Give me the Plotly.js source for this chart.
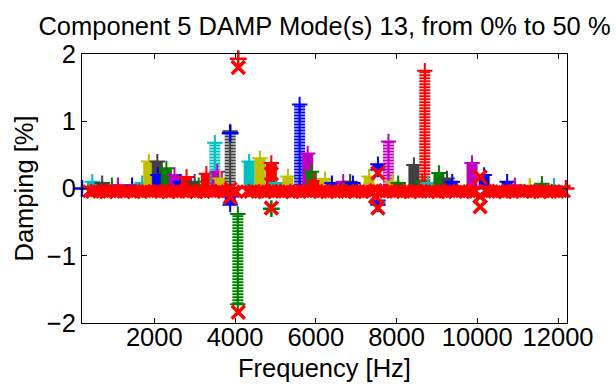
<!DOCTYPE html>
<html><head><meta charset="utf-8">
<script src="https://cdn.plot.ly/plotly-3.0.1.min.js"></script>
<style>html,body{margin:0;padding:0;background:#fff}#chart{width:616px;height:387px}</style>
</head><body><div id="chart"></div>
<script>
const titleText = 'Component 5 DAMP Mode(s) 13, from 0% to 50 %';
const xTitle = 'Frequency [Hz]';
const yTitle = 'Damping [%]';
const xTickVals = [2000, 4000, 6000, 8000, 10000, 12000];
const xTickText = ['2000', '4000', '6000', '8000', '10000', '12000'];
const yTickVals = [-2, -1, 0, 1, 2];
const yTickText = ['\u22122', '\u22121', '0', '1', '2'];

// stacked '+' columns (mode damping tracks): frequency, lowest and highest damping, series
const colFreq = [465, 710, 950, 1100, 1450, 1700, 1864, 2075, 2090, 2300, 2500, 2640, 2800, 3000, 3100, 3290, 3500, 3560, 3630, 3880, 3880, 4070, 4350, 4620, 4900, 5020, 5310, 5600, 5800, 5890, 5960, 6230, 6400, 6680, 6850, 6920, 7320, 7540, 7540, 7800, 7900, 8040, 8430, 8640, 8700, 8780, 9050, 9250, 9380, 9870, 10170, 10740, 10930, 11300, 11600, 11900];
const colLow  = [0, 0, 0, 0, 0, 0, 0, 0, 0, 0, 0, 0, 0, 0, 0, 0, 0, 0, 0, 0, -0.12, -1.72, 0, 0, 0, 0, 0, 0, 0, 0, 0, 0, 0, 0, 0, 0, 0, 0.28, -0.18, 0, 0, 0, 0, 0, 0.02, 0, 0, 0, 0, 0, 0, 0, 0, 0, 0, 0];
const colHigh = [0.1, 0.08, 0.05, 0.05, 0.05, 0.08, 0.4, 0.4, 0.2, 0.3, 0.2, 0.1, 0.17, 0.1, 0.05, 0.22, 0.68, 0.25, 0.15, 0.85, -0.24, -0.38, 0.4, 0.45, 0.38, 0.08, 0.18, 1.25, 0.52, 0.25, 0.12, 0.14, 0.08, 0.1, 0.1, 0.08, 0.18, 0.36, -0.24, 0.7, 0.1, 0.08, 0.35, 0.1, 1.75, 0.08, 0.23, 0.15, 0.1, 0.38, 0.2, 0.1, 0.05, 0.04, 0.07, 0.04];
const colSeries = ['c', 'k', 'g', 'm', 'b', 'c', 'y', 'k', 'b', 'g', 'm', 'b', 'r', 'k', 'g', 'r', 'c', 'm', 'y', 'k', 'b', 'g', 'c', 'y', 'r', 'c', 'y', 'b', 'm', 'g', 'r', 'y', 'b', 'm', 'k', 'b', 'y', 'b', 'b', 'm', 'y', 'g', 'k', 'g', 'r', 'c', 'g', 'k', 'b', 'm', 'b', 'b', 'm', 'y', 'g', 'c'];

// isolated '+' markers
const plusFreq = [210, 3880, 4080, 4900, 12200];
const plusDamp = [0, 0.82, 1.93, -0.3, 0];
const plusSeries = ['b', 'b', 'r', 'g', 'r'];

// red 'x' markers along the zero band
const bandFreq = [390, 470, 560, 640, 720, 810, 900, 980, 1060, 1150,
  1240, 1320, 1410, 1490, 1580, 1660, 1750, 1840, 1920, 2010,
  2100, 2180, 2270, 2350, 2440, 2530, 2610, 2700, 2790, 2870,
  2960, 3040, 3130, 3220, 3300, 3390, 3470, 3560, 3650, 3730,
  3820, 3890, 3960, 4040, 4300, 4390, 4470, 4560, 4640, 4730,
  4820, 4900, 4990, 5070, 5160, 5250, 5330, 5420, 5500, 5590,
  5680, 5760, 5850, 5930, 6020, 6110, 6190, 6280, 6360, 6450,
  6540, 6620, 6710, 6790, 6880, 6970, 7050, 7140, 7220, 7310,
  7400, 7480, 7570, 7650, 7740, 7830, 7910, 8000, 8080, 8170,
  8260, 8340, 8430, 8510, 8600, 8690, 8770, 8860, 8940, 9030,
  9120, 9200, 9290, 9370, 9460, 9550, 9630, 9720, 9800, 9890,
  9960, 10200, 10280, 10360, 10430, 10520, 10600, 10690, 10770, 10860,
  10950, 11030, 11120, 11200, 11290, 11380, 11460, 11550, 11630, 11720,
  11810, 11890, 11980, 12060, 12150];
const bandDamp = [-0.04, -0.05, -0.03, -0.05, -0.04, -0.06, -0.04, -0.03, -0.05, -0.04,
  -0.05, -0.03, -0.04, -0.06, -0.04, -0.05, -0.03, -0.04, -0.05, -0.04,
  -0.03, -0.05, -0.04, -0.06, -0.04, -0.03, -0.05, -0.04, -0.05, -0.03,
  -0.04, -0.06, -0.04, -0.05, -0.03, -0.04, -0.05, -0.04, -0.03, -0.05,
  -0.04, 0.0, -0.04, -0.05, -0.04, -0.05, -0.03, -0.05, -0.04, -0.06,
  -0.04, -0.03, -0.05, -0.04, -0.05, -0.03, -0.04, -0.06, -0.04, -0.05,
  -0.03, -0.04, -0.05, -0.04, -0.03, -0.05, -0.04, -0.06, -0.04, -0.03,
  -0.05, -0.04, -0.05, -0.03, -0.04, -0.06, -0.04, -0.05, -0.03, -0.04,
  -0.05, -0.02, -0.04, -0.03, -0.05, -0.04, -0.05, -0.04, -0.03, -0.05,
  -0.04, -0.06, -0.04, -0.03, -0.05, -0.04, -0.05, -0.03, -0.04, -0.06,
  -0.04, -0.05, -0.03, -0.04, -0.05, -0.04, -0.03, -0.05, -0.04, -0.06,
  -0.04, -0.03, -0.05, -0.04, -0.05, -0.03, -0.04, -0.06, -0.04, -0.05,
  -0.03, -0.04, -0.05, -0.04, -0.03, -0.05, -0.04, -0.06, -0.04, -0.03,
  -0.05, -0.04, -0.05, -0.04, -0.04];

// red 'x' markers away from the band
const outlierFreq = [4080, 4080, 3880, 4900, 4900, 7480, 7540, 7540, 10070, 10070, 10070];
const outlierDamp = [1.8, -1.84, -0.13, 0.22, -0.29, -0.12, 0.23, -0.29, 0.17, -0.12, -0.27];

const seriesColor = {b: '#0000ff', g: '#008000', r: '#ff0000', c: '#00bfbf', m: '#bf00bf', y: '#bfbf00', k: '#404040'};
const FS = 25.5;

const traces = [];
colFreq.forEach((f, i) => {
  const col = seriesColor[colSeries[i]];
  const tall = Math.abs(colHigh[i] - colLow[i]) > 0.6;
  traces.push({x: [f, f], y: [colLow[i], colHigh[i]], mode: 'lines', hoverinfo: 'skip',
    line: {color: col, width: 11, dash: tall ? '2px,1px' : 'solid'}});
  if (tall) traces.push({x: [f, f], y: [colLow[i], colHigh[i]], mode: 'lines', hoverinfo: 'skip',
    line: {color: col, width: 2}});
  traces.push({x: [f, f], y: [colLow[i], colHigh[i]], mode: 'markers', cliponaxis: false, hoverinfo: 'skip',
    marker: {symbol: 'cross-thin', size: 11, line: {color: col, width: 2}}});
});
plusFreq.forEach((f, i) => {
  const col = seriesColor[plusSeries[i]];
  traces.push({x: [f], y: [plusDamp[i]], mode: 'markers', cliponaxis: false, hoverinfo: 'skip',
    marker: {symbol: 'cross-thin', size: 12, line: {color: col, width: 2.5}}});
});
traces.push({x: bandFreq, y: bandDamp, mode: 'markers', cliponaxis: false, hoverinfo: 'skip',
  marker: {symbol: 'x-thin', size: 12, line: {color: '#ff0000', width: 3}}});
traces.push({x: outlierFreq, y: outlierDamp, mode: 'markers', cliponaxis: false, hoverinfo: 'skip',
  marker: {symbol: 'x-thin', size: 13, line: {color: '#ff0000', width: 3.5}}});

const axisBase = {showline: true, linecolor: '#000', linewidth: 1, mirror: 'ticks', ticks: 'inside',
  ticklen: 5, tickcolor: '#000', showgrid: false, zeroline: false, fixedrange: true,
  tickfont: {size: FS, color: '#000'}};

const layout = {
  width: 616, height: 387,
  margin: {l: 82, r: 49, t: 54, b: 64, pad: 0},
  paper_bgcolor: '#fff', plot_bgcolor: '#fff', showlegend: false,
  font: {family: 'Liberation Sans, Arial, sans-serif', size: FS, color: '#000'},
  title: {text: titleText, font: {size: FS, color: '#000'}, x: 0.5, xref: 'paper', xanchor: 'center',
    y: 1 - 26 / 387, yref: 'container', yanchor: 'middle'},
  xaxis: Object.assign({}, axisBase, {range: [210, 12222], tickvals: xTickVals, ticktext: xTickText,
    ticklabelstandoff: -9,
    title: {text: xTitle, standoff: 9, font: {size: FS, color: '#000'}}}),
  yaxis: Object.assign({}, axisBase, {range: [-2, 2], tickvals: yTickVals, ticktext: yTickText,
    title: {text: yTitle, standoff: 5, font: {size: FS, color: '#000'}}})
};
Plotly.newPlot('chart', traces, layout, {staticPlot: true, displayModeBar: false});
</script></body></html>
